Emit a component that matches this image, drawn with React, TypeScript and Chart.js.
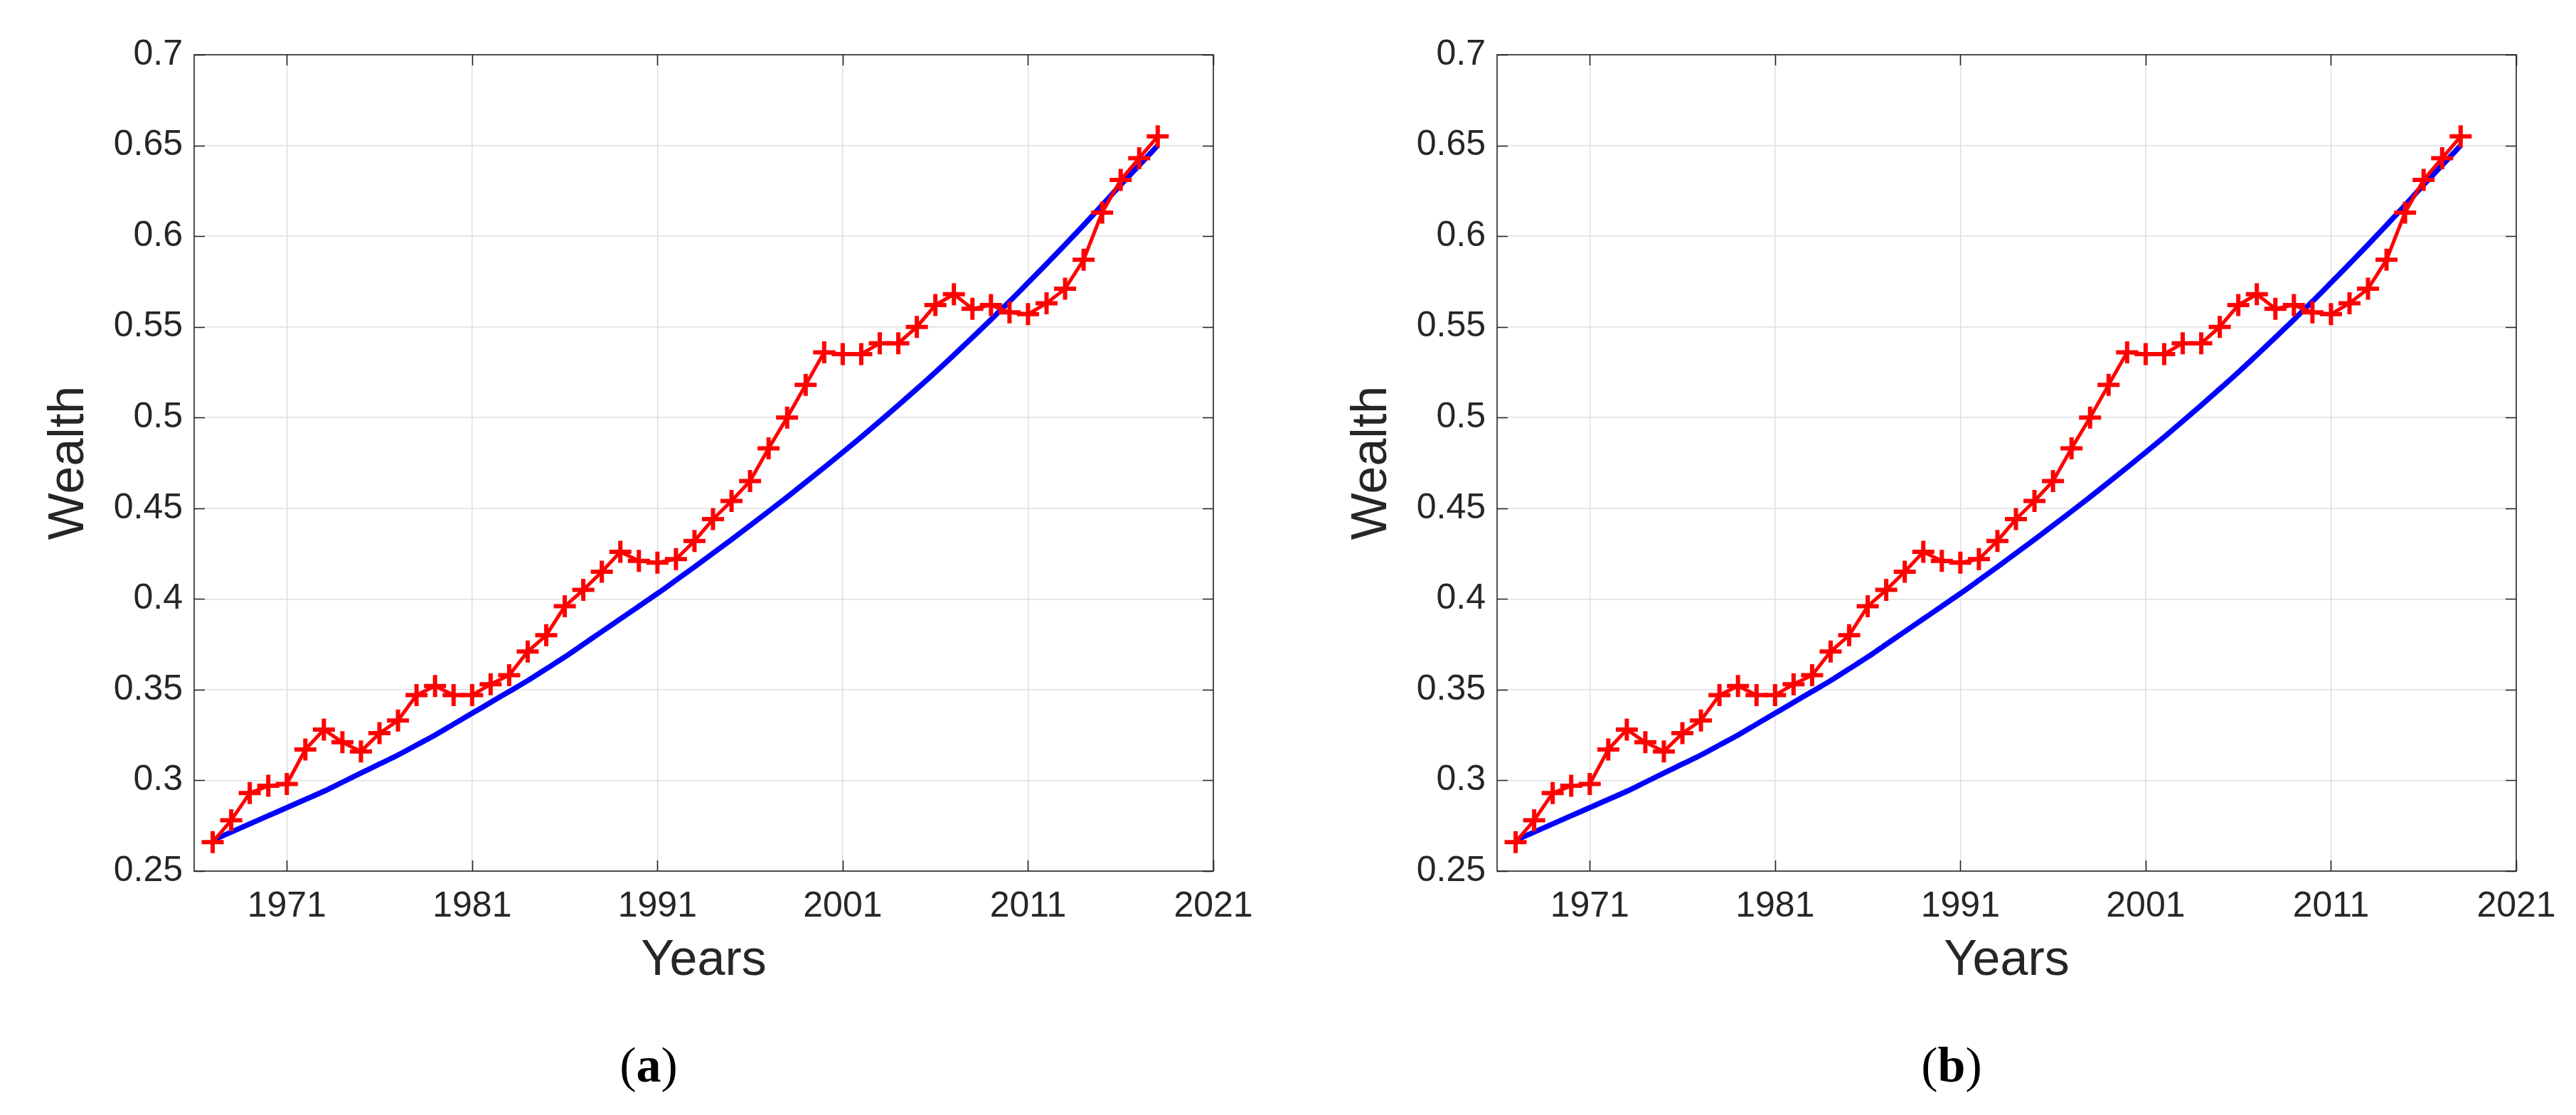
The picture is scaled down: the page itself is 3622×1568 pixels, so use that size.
import React, { useEffect, useRef } from "react";
import { Chart, registerables } from "chart.js";

Chart.register(...registerables);

// ---- data ----
const years = [
  1967, 1968, 1969, 1970, 1971, 1972, 1973, 1974, 1975, 1976,
  1977, 1978, 1979, 1980, 1981, 1982, 1983, 1984, 1985, 1986,
  1987, 1988, 1989, 1990, 1991, 1992, 1993, 1994, 1995, 1996,
  1997, 1998, 1999, 2000, 2001, 2002, 2003, 2004, 2005, 2006,
  2007, 2008, 2009, 2010, 2011, 2012, 2013, 2014, 2015, 2016,
  2017, 2018,
];

const observedWealth = [
  0.266, 0.278, 0.293, 0.297, 0.298, 0.317, 0.328, 0.321, 0.316, 0.326,
  0.333, 0.347, 0.352, 0.347, 0.347, 0.353, 0.358, 0.371, 0.38, 0.396,
  0.405, 0.415, 0.426, 0.421, 0.42, 0.422, 0.432, 0.444, 0.454, 0.465,
  0.483, 0.5, 0.518, 0.536, 0.535, 0.535, 0.541, 0.541, 0.55, 0.562,
  0.568, 0.56, 0.562, 0.558, 0.557, 0.563, 0.571, 0.587, 0.613, 0.631,
  0.643, 0.655,
];

const fittedWealth = [
  0.267, 0.2715, 0.276, 0.2805, 0.285, 0.2895, 0.294, 0.299, 0.304, 0.309,
  0.314, 0.3195, 0.325, 0.331, 0.337, 0.343, 0.349, 0.355, 0.3615, 0.368,
  0.375, 0.382, 0.389, 0.396, 0.403, 0.4103, 0.4177, 0.4252, 0.4328, 0.4405,
  0.4483, 0.4562, 0.4643, 0.4725, 0.4808, 0.4893, 0.498, 0.5068, 0.5158, 0.525,
  0.5345, 0.5442, 0.554, 0.564, 0.5743, 0.5847, 0.5953, 0.6061, 0.6171, 0.6283,
  0.6391, 0.65,
];

const xTickYears = [1971, 1981, 1991, 2001, 2011, 2021];
const yTickValues = [0.25, 0.3, 0.35, 0.4, 0.45, 0.5, 0.55, 0.6, 0.65, 0.7];
const panelLabels = ["a", "b"];

// ---- style ----
const AXIS_COLOR = "#262626";
const GRID_COLOR = "#dfdfdf";
const SANS = "'Liberation Sans', Arial, Helvetica, sans-serif";
const CANVAS_W = 1790;
const CANVAS_H = 1568;
const PANEL_OFFSETS = [0, 1832];

const framePlugin = {
  id: "matlabFrame",
  afterDraw(chart: any) {
    const { ctx, chartArea: a, scales } = chart;
    const xs = scales.x;
    const ys = scales.y;
    const L = 15;
    ctx.save();
    ctx.strokeStyle = AXIS_COLOR;
    ctx.lineWidth = 1.6;
    ctx.strokeRect(a.left, a.top, a.right - a.left, a.bottom - a.top);
    ctx.beginPath();
    xs.ticks.forEach((t: any) => {
      const px = Math.round(xs.getPixelForValue(t.value)) + 0.5;
      ctx.moveTo(px, a.bottom);
      ctx.lineTo(px, a.bottom - L);
      ctx.moveTo(px, a.top);
      ctx.lineTo(px, a.top + L);
    });
    ys.ticks.forEach((t: any) => {
      const py = Math.round(ys.getPixelForValue(t.value)) + 0.5;
      ctx.moveTo(a.left, py);
      ctx.lineTo(a.left + L, py);
      ctx.moveTo(a.right, py);
      ctx.lineTo(a.right - L, py);
    });
    ctx.stroke();
    ctx.restore();
  },
};

function Panel({ label, left }: { label: string; left: number }) {
  const ref = useRef<HTMLCanvasElement | null>(null);

  useEffect(() => {
    if (!ref.current) return;
    const observedPoints = years.map((yr, i) => ({ x: yr, y: observedWealth[i] }));
    const fittedPoints = years.map((yr, i) => ({ x: yr, y: fittedWealth[i] }));

    const chart = new Chart(ref.current, {
      type: "line",
      data: {
        datasets: [
          {
            label: "Observed",
            data: observedPoints,
            borderColor: "#ff0000",
            backgroundColor: "#ff0000",
            borderWidth: 5,
            pointStyle: "cross",
            pointRadius: 15.5,
            pointBorderWidth: 6,
            pointBorderColor: "#ff0000",
            pointHoverRadius: 15.5,
            tension: 0,
            fill: false,
          },
          {
            label: "Fitted",
            data: fittedPoints,
            borderColor: "#0000ff",
            backgroundColor: "#0000ff",
            borderWidth: 7.5,
            pointRadius: 0,
            pointHoverRadius: 0,
            cubicInterpolationMode: "monotone",
            fill: false,
          },
        ],
      },
      options: {
        animation: false,
        responsive: false,
        devicePixelRatio: 1,
        events: [],
        layout: { padding: { left: 0, top: 77, right: CANVAS_W - 1706, bottom: 0 } },
        plugins: {
          legend: { display: false },
          tooltip: { enabled: false },
          title: { display: false },
        },
        scales: {
          x: {
            type: "linear",
            min: 1966,
            max: 2021,
            afterBuildTicks: (s: any) => {
              s.ticks = xTickYears.map((v) => ({ value: v }));
            },
            ticks: {
              color: AXIS_COLOR,
              font: { family: SANS, size: 50 },
              padding: 20,
              maxRotation: 0,
              autoSkip: false,
              callback: (v: any) => String(v),
            },
            grid: { color: GRID_COLOR, lineWidth: 1.5, drawTicks: false },
            border: { display: false },
            title: {
              display: true,
              text: "Years",
              color: AXIS_COLOR,
              font: { family: SANS, size: 70 },
              padding: { top: 0, bottom: 174 },
            },
            afterFit: (s: any) => {
              s.height = CANVAS_H - 1225;
            },
          },
          y: {
            type: "linear",
            min: 0.25,
            max: 0.7,
            afterBuildTicks: (s: any) => {
              s.ticks = yTickValues.map((v) => ({ value: v }));
            },
            ticks: {
              color: AXIS_COLOR,
              font: { family: SANS, size: 50 },
              padding: 16,
              autoSkip: false,
              callback: (v: any) => String(Number(Number(v).toFixed(2))),
            },
            grid: { color: GRID_COLOR, lineWidth: 1.5, drawTicks: false },
            border: { display: false },
            title: {
              display: true,
              text: "Wealth",
              color: AXIS_COLOR,
              font: { family: SANS, size: 70 },
              padding: { top: 56, bottom: 0 },
            },
            afterFit: (s: any) => {
              s.width = 273;
            },
          },
        },
      },
      plugins: [framePlugin],
    } as any);

    return () => chart.destroy();
  }, []);

  return (
    <>
      <canvas
        ref={ref}
        width={CANVAS_W}
        height={CANVAS_H}
        style={{ position: "absolute", left, top: 0, width: CANVAS_W, height: CANVAS_H }}
      />
      <div
        style={{
          position: "absolute",
          left: left + 912,
          top: 1498,
          transform: "translate(-50%, -50%)",
          fontFamily: "'Liberation Serif', 'Times New Roman', serif",
          fontSize: 70,
          lineHeight: 1,
          color: "#000",
          whiteSpace: "nowrap",
        }}
      >
        (<b>{label}</b>)
      </div>
    </>
  );
}

export default function App() {
  return (
    <div
      style={{
        position: "fixed",
        left: 0,
        top: 0,
        width: 3622,
        height: 1568,
        background: "#fff",
        overflow: "hidden",
      }}
    >
      {panelLabels.map((lab, i) => (
        <Panel key={lab} label={lab} left={PANEL_OFFSETS[i]} />
      ))}
    </div>
  );
}
